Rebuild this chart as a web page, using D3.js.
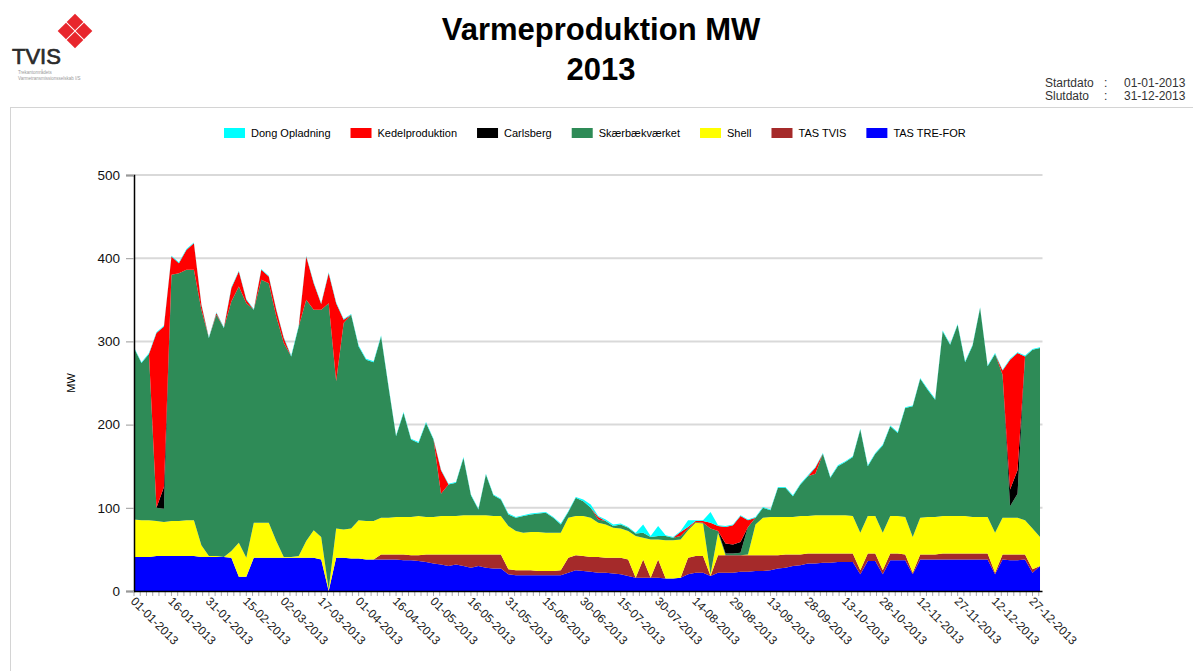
<!DOCTYPE html>
<html>
<head>
<meta charset="utf-8">
<script src="https://cdn.jsdelivr.net/npm/d3@7"></script>
<style>
  body { margin: 0; background: #fff; font-family: Arial, "Liberation Sans", sans-serif; }
</style>
</head>
<body>
<div id="chart"></div>
<script>
// Data (one sample every 3 days from 01-01-2013)
const startDate = new Date(2013, 0, 1)
const sampleStep = 3

const seriesNames = ['TAS TRE-FOR', 'TAS TVIS', 'Shell', 'Skærbækværket', 'Carlsberg', 'Kedelproduktion', 'Dong Opladning']
const legendNames = ['Dong Opladning', 'Kedelproduktion', 'Carlsberg', 'Skærbækværket', 'Shell', 'TAS TVIS', 'TAS TRE-FOR']
const seriesColors = {
  'Dong Opladning': '#00ffff',
  'Kedelproduktion': '#ff0000',
  'Carlsberg': '#000000',
  'Skærbækværket': '#2e8b57',
  'Shell': '#ffff00',
  'TAS TVIS': '#a52a2a',
  'TAS TRE-FOR': '#0000ff'
}

const treFor = [41,41,41,42,42,42,42,42,42,41,41,41,41,40,17,17,40,40,40,40,40,40,40,40,40,38,0,40,40,39,
  39,38,38,38,38,38,37,37,36,35,33,32,30,32,30,28,30,28,27,27,20,19,19,19,19,19,19,19,22,25,
  24,23,22,22,21,20,18,16,16,16,16,15,15,16,20,22,22,18,22,22,22,23,23,24,24,25,27,28,30,31,
  33,33,34,34,35,35,35,20,36,36,20,37,37,37,20,38,38,38,38,38,38,38,38,38,38,20,38,37,37,38,
  22,30]
const tvis = [0,0,0,0,0,0,0,0,0,0,0,0,0,0,0,0,0,0,0,0,0,0,0,0,0,0,0,0,0,0,
  0,0,0,6,6,6,7,6,7,9,11,12,14,12,14,16,14,16,17,17,6,6,6,6,5,5,5,6,18,18,
  18,18,19,18,19,20,20,0,22,0,22,0,0,0,20,20,20,0,21,21,21,20,20,19,19,18,16,16,14,13,
  12,12,11,11,10,10,10,5,9,9,5,8,8,7,2,6,6,6,7,7,7,7,7,7,7,2,6,7,7,6,
  4,0]
const shell = [45,44,44,42,41,42,42,43,43,14,1,1,0,8,41,23,42,42,42,20,1,1,2,20,33,27,2,35,34,36,
  46,46,46,44,44,45,45,46,47,45,45,46,46,46,47,47,47,47,46,46,52,47,45,46,47,46,46,45,48,47,
  48,47,41,40,36,35,34,50,26,46,24,46,46,46,33,40,39,2,27,0,0,0,1,37,45,46,46,45,45,46,
  45,46,46,46,46,46,45,45,45,45,45,45,45,45,43,44,45,45,45,45,45,45,44,44,44,48,44,44,44,41,
  49,35]
const skaerbaek = [206,189,200,16,16,296,298,301,301,283,262,290,275,300,308,306,256,292,288,270,257,241,276,290,265,273,344,177,248,257,
  209,194,191,218,157,97,125,93,88,113,93,27,38,40,69,24,7,49,25,20,14,16,20,21,22,24,18,10,7,22,
  18,12,4,4,2,5,4,3,6,3,4,5,3,4,2,1,1,55,2,2,2,3,33,8,12,8,35,35,25,38,
  48,50,74,45,59,64,71,124,60,75,105,108,100,131,157,167,153,141,222,206,230,185,206,251,181,215,172,14,29,197,
  215,227]
const carlsberg = [0,0,0,0,26,0,0,0,0,0,0,0,0,0,0,0,0,0,0,0,0,0,0,0,0,0,0,0,0,0,
  0,0,0,0,0,0,0,0,0,0,0,0,0,0,0,0,0,0,0,0,0,0,0,0,0,0,0,0,0,0,
  0,0,0,0,0,0,0,0,0,0,0,0,0,0,0,0,0,0,0,12,11,13,0,0,0,0,0,0,0,0,
  0,0,0,0,0,0,0,0,0,0,0,0,0,0,0,0,0,0,0,0,0,0,0,0,0,0,0,20,28,0,
  0,0]
const kedel = [0,0,0,210,193,22,12,24,32,6,0,2,0,16,18,4,0,12,8,8,6,0,0,52,32,7,36,94,4,0,
  0,0,0,0,0,0,0,0,0,0,0,28,0,0,0,0,0,0,0,0,0,0,0,0,0,0,0,0,0,0,
  0,0,3,0,0,0,0,0,0,0,0,0,0,5,2,1,2,7,6,20,23,31,8,0,0,0,0,0,0,0,
  0,7,0,0,0,0,0,0,0,0,0,0,0,0,0,0,0,0,0,0,0,0,0,0,0,0,5,156,141,0,
  0,0]
const dong = [1,1,1,1,1,1,1,1,1,1,1,1,1,1,1,1,1,1,1,1,1,1,1,1,1,1,1,1,1,1,
  1,1,1,1,1,1,1,1,1,1,1,1,1,1,1,1,1,1,1,1,1,1,1,1,1,1,1,1,1,1,
  2,4,1,2,2,1,1,1,10,1,12,1,1,1,8,1,1,13,1,1,1,1,1,1,1,1,1,1,1,1,
  1,1,1,1,1,1,1,1,1,1,1,1,1,1,1,1,1,1,1,1,1,1,1,1,1,1,1,1,1,1,
  1,1]

const xTickLabels = ['01-01-2013','16-01-2013','31-01-2013','15-02-2013','02-03-2013','17-03-2013','01-04-2013',
  '16-04-2013','01-05-2013','16-05-2013','31-05-2013','15-06-2013','30-06-2013','15-07-2013','30-07-2013',
  '14-08-2013','29-08-2013','13-09-2013','28-09-2013','13-10-2013','28-10-2013','12-11-2013','27-11-2013',
  '12-12-2013','27-12-2013']
const yTicks = [0, 100, 200, 300, 400, 500]

// Table for d3.stack
const columns = [treFor, tvis, shell, skaerbaek, carlsberg, kedel, dong]
const dataset = treFor.map((_, i) => {
  const row = { date: d3.timeDay.offset(startDate, i * sampleStep) }
  seriesNames.forEach((name, k) => { row[name] = columns[k][i] })
  return row
})

// Dimensions
const dimensions = {
  width: 1193,
  height: 671,
  plotLeft: 134,
  plotRight: 1042.5,
  plotTop: 175,
  plotBottom: 591
}

const svg = d3.select('#chart')
  .append('svg')
  .attr('width', dimensions.width)
  .attr('height', dimensions.height)
  .style('display', 'block')

// Panel frame
svg.append('rect')
  .attr('x', 10.5).attr('y', 107.5)
  .attr('width', 1200).attr('height', 600)
  .attr('fill', 'none')
  .attr('stroke', '#d4d4d4')

// Logo
const logo = svg.append('g')
const diamonds = [[75, 22], [66, 31], [84, 31], [75, 40]]
logo.selectAll('path')
  .data(diamonds)
  .join('path')
  .attr('d', ([cx, cy]) => `M${cx},${cy - 8.3}L${cx + 8.3},${cy}L${cx},${cy + 8.3}L${cx - 8.3},${cy}Z`)
  .attr('fill', '#e8262d')
logo.append('text')
  .attr('x', 12).attr('y', 64)
  .attr('font-size', 22)
  .attr('fill', '#2b2b2b')
  .attr('stroke', '#2b2b2b')
  .attr('stroke-width', 0.7)
  .text('TVIS')
logo.append('text')
  .attr('x', 18).attr('y', 74)
  .attr('font-size', 4.5).attr('fill', '#9a9a9a')
  .text('Trekantområdets')
logo.append('text')
  .attr('x', 18).attr('y', 80)
  .attr('font-size', 4.5).attr('fill', '#9a9a9a')
  .text('Varmetransmissionsselskab I/S')

// Title
svg.append('text')
  .attr('x', 601).attr('y', 40)
  .attr('text-anchor', 'middle')
  .attr('font-size', 31).attr('font-weight', 'bold')
  .text('Varmeproduktion MW')
svg.append('text')
  .attr('x', 601).attr('y', 80)
  .attr('text-anchor', 'middle')
  .attr('font-size', 31).attr('font-weight', 'bold')
  .text('2013')

// Start / slut dates
const info = svg.append('g').attr('font-size', 12).attr('fill', '#333')
info.append('text').attr('x', 1045).attr('y', 87).text('Startdato')
info.append('text').attr('x', 1104).attr('y', 87).text(':')
info.append('text').attr('x', 1124).attr('y', 87).text('01-01-2013')
info.append('text').attr('x', 1045).attr('y', 100).text('Slutdato')
info.append('text').attr('x', 1104).attr('y', 100).text(':')
info.append('text').attr('x', 1124).attr('y', 100).text('31-12-2013')

// Scales
const xScale = d3.scaleTime()
  .domain([startDate, new Date(2013, 11, 31)])
  .range([dimensions.plotLeft, dimensions.plotRight])

const yScale = d3.scaleLinear()
  .domain([0, 500])
  .range([dimensions.plotBottom, dimensions.plotTop])

const stackData = d3.stack().keys(seriesNames)(dataset)

// Gridlines
svg.append('g')
  .selectAll('line')
  .data(yTicks.filter(t => t > 0))
  .join('line')
  .attr('x1', dimensions.plotLeft).attr('x2', dimensions.plotRight)
  .attr('y1', d => yScale(d)).attr('y2', d => yScale(d))
  .attr('stroke', '#d9d9d9')
  .attr('stroke-width', 2)

// Areas
const area = d3.area()
  .x(d => xScale(d.data.date))
  .y0(d => yScale(d[0]))
  .y1(d => yScale(d[1]))

svg.append('g')
  .selectAll('path')
  .data(stackData)
  .join('path')
  .attr('fill', d => seriesColors[d.key])
  .attr('d', area)

// Y axis
const yAxis = d3.axisLeft(yScale)
  .tickValues(yTicks)
  .tickSize(8)
  .tickPadding(6)

const yAxisGroup = svg.append('g')
  .attr('transform', `translate(${dimensions.plotLeft},0)`)
  .call(yAxis)
yAxisGroup.select('.domain').attr('stroke', '#000').attr('stroke-width', 1.5)
yAxisGroup.selectAll('.tick line').attr('stroke', '#999')
yAxisGroup.selectAll('.tick text')
  .attr('font-family', 'Arial, "Liberation Sans", sans-serif')
  .attr('font-size', 13.5)
  .attr('fill', '#111')

svg.append('text')
  .attr('transform', 'translate(75,383) rotate(-90)')
  .attr('text-anchor', 'middle')
  .attr('font-size', 11)
  .text('MW')

// X axis
const parseTick = d3.timeParse('%d-%m-%Y')
const minorTicks = d3.range(0, 146).map(k => d3.timeHour.offset(startDate, k * 60))

svg.append('g')
  .selectAll('line')
  .data(minorTicks)
  .join('line')
  .attr('x1', d => xScale(d)).attr('x2', d => xScale(d))
  .attr('y1', dimensions.plotBottom).attr('y2', dimensions.plotBottom + 5)
  .attr('stroke', '#aaa')

svg.append('line')
  .attr('x1', dimensions.plotLeft).attr('x2', dimensions.plotRight)
  .attr('y1', dimensions.plotBottom + 0.5).attr('y2', dimensions.plotBottom + 0.5)
  .attr('stroke', '#000').attr('stroke-width', 1.5)

svg.append('g')
  .selectAll('text')
  .data(xTickLabels)
  .join('text')
  .attr('transform', d => `translate(${xScale(parseTick(d)) - 1},${dimensions.plotBottom + 8}) rotate(45)`)
  .attr('dy', '0.35em')
  .attr('font-size', 12)
  .attr('fill', '#222')
  .text(d => d)

// Legend
const legend = svg.append('g')
let lx = 224
legendNames.forEach(name => {
  legend.append('rect')
    .attr('x', lx).attr('y', 128)
    .attr('width', 21).attr('height', 10)
    .attr('fill', seriesColors[name])
  const t = legend.append('text')
    .attr('x', lx + 27).attr('y', 137)
    .attr('font-size', 11)
    .text(name)
  lx += 27 + t.node().getComputedTextLength() + 20
})
</script>
</body>
</html>
